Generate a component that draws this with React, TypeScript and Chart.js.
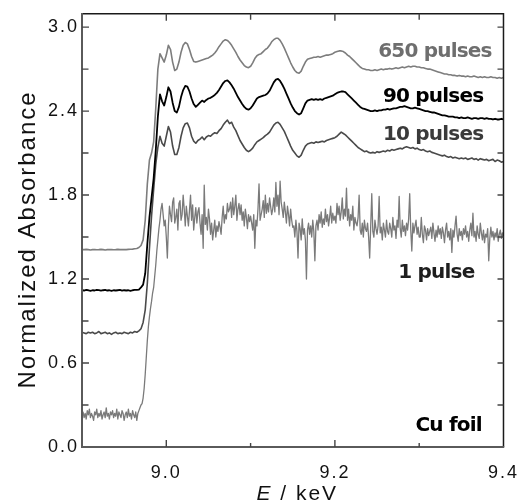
import { useEffect, useRef } from "react";
import { Chart, registerables } from "chart.js";

Chart.register(...registerables);

// Energy grids (keV): first point and spacing of the measured scans
const E_START = 8.9;
const E_STEP = 0.0025;
const E_STEP_1PULSE = 0.00125;

const X_MIN = 8.9;
const X_MAX = 9.4;
const Y_MIN = 0;
const Y_MAX = 3.095;

const X_TICKS_MAJOR = [9.0, 9.2];
const X_TICKS_MINOR = [9.1, 9.3];
const Y_TICKS_MAJOR = [0.6, 1.2, 1.8, 2.4, 3.0];
const Y_TICKS_MINOR = [0.3, 0.9, 1.5, 2.1, 2.7];

const SERIES_NAMES = ["650 pulses", "90 pulses", "10 pulses", "1 pulse"];

const PULSES_650 = [
  1.41, 1.41, 1.412, 1.41, 1.408, 1.41, 1.411, 1.409, 1.41, 1.412,
  1.41, 1.408, 1.41, 1.411, 1.41, 1.409, 1.41, 1.412, 1.41, 1.41,
  1.411, 1.41, 1.412, 1.413, 1.414, 1.416,
  1.418, 1.425, 1.44, 1.48, 1.62, 1.88, 2.05, 2.1, 2.18, 2.42, 2.7, 2.81, 2.78, 2.75,
  2.8, 2.87, 2.84, 2.75, 2.69, 2.7, 2.75, 2.82, 2.87, 2.89,
  2.88, 2.84, 2.79, 2.755, 2.75, 2.755, 2.76, 2.765, 2.77, 2.775,
  2.78, 2.79, 2.8, 2.815, 2.835, 2.86, 2.88, 2.9, 2.91, 2.905,
  2.89, 2.87, 2.845, 2.82, 2.79, 2.765, 2.745, 2.725, 2.715, 2.71,
  2.72, 2.745, 2.775, 2.795, 2.805, 2.81, 2.825, 2.84, 2.85, 2.87,
  2.895, 2.91, 2.92, 2.92, 2.905, 2.88, 2.85, 2.815, 2.78, 2.745,
  2.715, 2.69, 2.675, 2.67, 2.685, 2.72, 2.75, 2.77, 2.775, 2.78,
  2.785, 2.785, 2.79, 2.785, 2.79, 2.795, 2.8, 2.8, 2.805, 2.81,
  2.82, 2.825, 2.83, 2.83, 2.825, 2.815, 2.8, 2.79, 2.775, 2.76,
  2.745, 2.73, 2.715, 2.705, 2.7, 2.695, 2.695, 2.69, 2.69, 2.695,
  2.69, 2.695, 2.7, 2.695, 2.7, 2.7, 2.705, 2.7, 2.705, 2.71,
  2.705, 2.71, 2.715, 2.71, 2.715, 2.72, 2.715, 2.72, 2.72, 2.715,
  2.715, 2.71, 2.71, 2.705, 2.7, 2.7, 2.695, 2.69, 2.685, 2.68,
  2.675, 2.67, 2.665, 2.665, 2.66, 2.66, 2.655, 2.655, 2.65, 2.655,
  2.65, 2.65, 2.645, 2.65, 2.645, 2.645, 2.65, 2.645, 2.64, 2.645,
  2.64, 2.645, 2.64, 2.64, 2.645, 2.64, 2.64, 2.635, 2.64, 2.635,
  2.64,
];

const PULSES_90 = [
  1.12, 1.118, 1.122, 1.12, 1.115, 1.12, 1.118, 1.123, 1.12, 1.117,
  1.12, 1.122, 1.118, 1.12, 1.115, 1.12, 1.118, 1.12, 1.122, 1.117,
  1.12, 1.118, 1.12, 1.115, 1.12, 1.122,
  1.122, 1.125, 1.14, 1.16, 1.24, 1.45, 1.64, 1.78, 1.92, 2.12, 2.36, 2.52, 2.47, 2.44,
  2.5, 2.57, 2.54, 2.46, 2.4, 2.39, 2.43, 2.5, 2.55, 2.58,
  2.575, 2.54, 2.49, 2.45, 2.43, 2.445, 2.46, 2.475, 2.465, 2.48,
  2.49, 2.495, 2.505, 2.515, 2.53, 2.55, 2.575, 2.6, 2.615, 2.62,
  2.605, 2.585, 2.56, 2.53, 2.5, 2.475, 2.45, 2.43, 2.415, 2.41,
  2.42, 2.44, 2.465, 2.49, 2.5, 2.505, 2.51, 2.515, 2.525, 2.545,
  2.575, 2.605, 2.625, 2.63, 2.615, 2.59, 2.56, 2.525, 2.49, 2.455,
  2.425, 2.4, 2.385, 2.375, 2.385, 2.42, 2.455, 2.475, 2.48, 2.485,
  2.48, 2.485, 2.48, 2.485, 2.48, 2.49, 2.495, 2.5, 2.505, 2.51,
  2.52, 2.53, 2.535, 2.54, 2.54, 2.535, 2.52, 2.505, 2.49, 2.475,
  2.46, 2.445, 2.43, 2.42, 2.415, 2.41, 2.405, 2.4, 2.4, 2.405,
  2.4, 2.405, 2.405, 2.41, 2.41, 2.415, 2.41, 2.415, 2.42, 2.42,
  2.425, 2.43, 2.43, 2.435, 2.43, 2.425, 2.42, 2.42, 2.425, 2.42,
  2.415, 2.41, 2.405, 2.4, 2.4, 2.395, 2.39, 2.39, 2.385, 2.38,
  2.375, 2.37, 2.37, 2.365, 2.36, 2.36, 2.36, 2.355, 2.355, 2.35,
  2.355, 2.35, 2.35, 2.355, 2.35, 2.345, 2.35, 2.35, 2.345, 2.35,
  2.35, 2.345, 2.35, 2.345, 2.345, 2.34, 2.345, 2.34, 2.34, 2.345,
  2.34,
];

const PULSES_10 = [
  0.82, 0.815, 0.81, 0.82, 0.815, 0.82, 0.81, 0.815, 0.825, 0.81,
  0.815, 0.82, 0.81, 0.815, 0.805, 0.815, 0.82, 0.81, 0.815, 0.81,
  0.82, 0.815, 0.81, 0.82, 0.815, 0.825,
  0.82, 0.83, 0.845, 0.89, 0.98, 1.17, 1.42, 1.65, 1.84, 2.02, 2.14, 2.22, 2.17, 2.15,
  2.22, 2.29, 2.25, 2.15, 2.09, 2.09, 2.14, 2.22, 2.28, 2.31,
  2.315, 2.28, 2.22, 2.185, 2.17, 2.19, 2.2, 2.215, 2.195, 2.215,
  2.225, 2.22, 2.235, 2.245, 2.24, 2.26, 2.275, 2.3, 2.32, 2.335,
  2.31, 2.32, 2.285, 2.26, 2.225, 2.19, 2.165, 2.14, 2.12, 2.11,
  2.12, 2.135, 2.16, 2.18, 2.19, 2.2, 2.21, 2.225, 2.235, 2.25,
  2.275, 2.3, 2.315, 2.32, 2.305, 2.28, 2.255, 2.22, 2.185, 2.15,
  2.12, 2.1, 2.08, 2.07, 2.085, 2.12, 2.15, 2.165, 2.17, 2.175,
  2.17, 2.18, 2.175, 2.18, 2.185, 2.18, 2.19, 2.195, 2.2, 2.205,
  2.21, 2.22, 2.235, 2.25, 2.24, 2.23, 2.215, 2.2, 2.185, 2.17,
  2.155, 2.14, 2.13, 2.12, 2.11, 2.115, 2.105, 2.1, 2.105, 2.1,
  2.11, 2.105, 2.11, 2.115, 2.11, 2.12, 2.115, 2.125, 2.12, 2.125,
  2.13, 2.135, 2.13, 2.14, 2.145, 2.14, 2.135, 2.14, 2.13, 2.135,
  2.125, 2.12, 2.125, 2.115, 2.11, 2.115, 2.105, 2.1, 2.095, 2.09,
  2.085, 2.08, 2.085, 2.075, 2.07, 2.075, 2.065, 2.07, 2.065, 2.06,
  2.065, 2.06, 2.065, 2.055, 2.06, 2.065, 2.055, 2.06, 2.05, 2.06,
  2.055, 2.05, 2.055, 2.045, 2.05, 2.055, 2.04, 2.05, 2.045, 2.035,
  2.04,
];

// 1 pulse scan (finer grid, E_STEP_1PULSE)
const PULSE_1 = [
  0.22, 0.25, 0.21, 0.24, 0.2, 0.26, 0.23, 0.27, 0.21, 0.24,
  0.22, 0.19, 0.25, 0.23, 0.27, 0.21, 0.24, 0.22, 0.26, 0.2,
  0.23, 0.25, 0.21, 0.28, 0.22, 0.24, 0.2, 0.25, 0.23, 0.26,
  0.21, 0.24, 0.22, 0.27, 0.2, 0.25, 0.23, 0.21, 0.26, 0.24,
  0.19, 0.23, 0.25, 0.21, 0.27, 0.22, 0.24, 0.2, 0.26, 0.23,
  0.21, 0.25, 0.19, 0.24, 0.26, 0.28,
  0.3, 0.31, 0.35, 0.42, 0.52, 0.64, 0.76, 0.86, 0.93, 0.99,
  1.04, 1.1, 1.14, 1.22, 1.3, 1.4, 1.48, 1.56, 1.62, 1.7,
  1.74, 1.66, 1.58, 1.62, 1.5,
  1.35, 1.58, 1.72, 1.66, 1.61, 1.75, 1.78, 1.6, 1.64, 1.7,
  1.55, 1.74, 1.76, 1.62, 1.66, 1.8, 1.7, 1.58, 1.72, 1.65,
  1.58, 1.69, 1.8, 1.62, 1.73, 1.55, 1.64, 1.71, 1.6, 1.68,
  1.71, 1.6, 1.52, 1.66, 1.42, 1.87, 1.59, 1.64, 1.55, 1.7,
  1.63, 1.52, 1.6, 1.48, 1.55, 1.62, 1.5, 1.58, 1.54, 1.61,
  1.57, 1.52, 1.64, 1.72, 1.6, 1.66, 1.63, 1.74, 1.68, 1.7,
  1.75, 1.64, 1.78, 1.66, 1.72, 1.8, 1.62, 1.7, 1.74, 1.66,
  1.73, 1.62, 1.68, 1.58, 1.7, 1.64, 1.56, 1.66, 1.61, 1.65,
  1.6, 1.55, 1.66, 1.42, 1.62, 1.58, 1.7, 1.88, 1.62, 1.66,
  1.7, 1.76, 1.64, 1.8, 1.67, 1.74, 1.68, 1.78, 1.72, 1.66,
  1.7, 1.78, 1.68, 1.89, 1.72, 1.8, 1.66, 1.9, 1.75, 1.7,
  1.64, 1.75, 1.68, 1.6, 1.72, 1.66, 1.58, 1.7, 1.62, 1.57,
  1.58, 1.5, 1.62, 1.54, 1.35, 1.6, 1.56, 1.48, 1.63, 1.52,
  1.56, 1.48, 1.2, 1.55, 1.6, 1.52, 1.58, 1.5, 1.62, 1.54,
  1.33, 1.58, 1.62, 1.55, 1.66, 1.6, 1.68, 1.57, 1.63, 1.59,
  1.7, 1.61, 1.66, 1.58, 1.64, 1.72, 1.6, 1.67, 1.62, 1.65,
  1.6, 1.74, 1.66, 1.72, 1.62, 1.68, 1.78, 1.63, 1.7, 1.65,
  1.85, 1.62, 1.7, 1.58, 1.66, 1.62, 1.72, 1.55, 1.64, 1.6,
  1.58, 1.64, 1.8, 1.55, 1.52, 1.6, 1.5, 1.62, 1.56, 1.54,
  1.6, 1.5, 1.35, 1.58, 1.81, 1.54, 1.5, 1.62, 1.56, 1.52,
  1.58, 1.79, 1.53, 1.57, 1.48, 1.6, 1.55, 1.5, 1.62, 1.54,
  1.52, 1.6, 1.56, 1.5, 1.64, 1.55, 1.58, 1.49, 1.62, 1.57,
  1.79, 1.56, 1.5, 1.62, 1.54, 1.58, 1.51, 1.6, 1.55, 1.63,
  1.81, 1.55, 1.4, 1.6, 1.53, 1.58, 1.62, 1.52, 1.57, 1.5,
  1.5, 1.64, 1.52, 1.46, 1.58, 1.55, 1.48, 1.56, 1.51, 1.54,
  1.57, 1.49, 1.6, 1.53, 1.47, 1.55, 1.5, 1.58, 1.52, 1.56,
  1.49, 1.57, 1.53, 1.46, 1.55, 1.6, 1.5, 1.54, 1.48, 1.56,
  1.39, 1.55, 1.5, 1.58, 1.65, 1.52, 1.47, 1.56, 1.51, 1.54,
  1.48, 1.56, 1.52, 1.58, 1.5, 1.54, 1.47, 1.55, 1.6, 1.51,
  1.67, 1.5, 1.54, 1.47, 1.58, 1.52, 1.49, 1.6, 1.53, 1.48,
  1.55, 1.46, 1.52, 1.5, 1.56, 1.33, 1.49, 1.57, 1.5, 1.54,
  1.48, 1.53, 1.5, 1.56, 1.47, 1.52, 1.55, 1.49, 1.53, 1.5,
];

const SERIES_VALUES = [PULSES_650, PULSES_90, PULSES_10, PULSE_1];
const SERIES_STEPS = [E_STEP, E_STEP, E_STEP, E_STEP_1PULSE];
const SERIES_COLORS = ["#7d7d7d", "#000000", "#4a4a4a", "#7a7a7a"];
const SERIES_WIDTHS = [1.6, 1.8, 1.6, 1.3];

// In-plot annotations: text, anchor (right end, baseline) in data units
const ANNOTATION_TEXT = ["650 pulses", "90 pulses", "10 pulses", "1 pulse", "Cu foil"];
const ANNOTATION_E = [9.386, 9.376, 9.376, 9.3655, 9.3744];
const ANNOTATION_A = [2.786, 2.464, 2.191, 1.207, 0.112];
const ANNOTATION_COLORS = ["#6e6e6e", "#000000", "#3a3a3a", "#1e1e1e", "#000000"];

const TICK_FONT = '"Liberation Sans", Arial, sans-serif';

const decorPlugin = {
  id: "decor",
  beforeDraw(chart: any) {
    chart.ctx.letterSpacing = "2px";
  },
  afterDraw(chart: any) {
    const ctx: CanvasRenderingContext2D = chart.ctx;
    const a = chart.chartArea;
    const xs = chart.scales.x;
    const ys = chart.scales.y;
    ctx.save();

    // frame
    ctx.lineCap = "butt";
    ctx.strokeStyle = "#1a1a1a";
    ctx.lineWidth = 1.5;
    ctx.beginPath();
    ctx.moveTo(a.left, a.top);
    ctx.lineTo(a.right, a.top);
    ctx.lineTo(a.right, a.bottom);
    ctx.stroke();
    ctx.strokeStyle = "#5a5a5a";
    ctx.lineWidth = 2;
    ctx.beginPath();
    ctx.moveTo(a.left, a.top - 0.75);
    ctx.lineTo(a.left, a.bottom);
    ctx.lineTo(a.right + 0.75, a.bottom);
    ctx.stroke();

    // inward ticks
    ctx.strokeStyle = "#444";
    ctx.lineWidth = 1.4;
    ctx.beginPath();
    for (const v of Y_TICKS_MAJOR) {
      const py = ys.getPixelForValue(v);
      ctx.moveTo(a.left, py); ctx.lineTo(a.left + 7, py);
      ctx.moveTo(a.right, py); ctx.lineTo(a.right - 6, py);
    }
    for (const v of Y_TICKS_MINOR) {
      const py = ys.getPixelForValue(v);
      ctx.moveTo(a.left, py); ctx.lineTo(a.left + 6.5, py);
      ctx.moveTo(a.right, py); ctx.lineTo(a.right - 6, py);
    }
    for (const v of X_TICKS_MAJOR) {
      const px = xs.getPixelForValue(v);
      ctx.moveTo(px, a.bottom); ctx.lineTo(px, a.bottom - 7);
      ctx.moveTo(px, a.top); ctx.lineTo(px, a.top + 7);
    }
    for (const v of X_TICKS_MINOR) {
      const px = xs.getPixelForValue(v);
      ctx.moveTo(px, a.bottom); ctx.lineTo(px, a.bottom - 4);
      ctx.moveTo(px, a.top); ctx.lineTo(px, a.top + 6);
    }
    ctx.stroke();

    // annotations
    ctx.font = 'bold 20px "DejaVu Sans", Verdana, sans-serif';
    ctx.letterSpacing = "-0.8px";
    ctx.textAlign = "right";
    ctx.textBaseline = "alphabetic";
    ANNOTATION_TEXT.forEach((t, i) => {
      ctx.fillStyle = ANNOTATION_COLORS[i];
      ctx.fillText(t, xs.getPixelForValue(ANNOTATION_E[i]), ys.getPixelForValue(ANNOTATION_A[i]));
    });

    // axis titles
    ctx.fillStyle = "#111";
    ctx.letterSpacing = "2px";
    ctx.textAlign = "left";
    ctx.font = `italic 21px ${TICK_FONT}`;
    const wE = ctx.measureText("E").width;
    ctx.font = `21px ${TICK_FONT}`;
    const wR = ctx.measureText(" / keV").width;
    const total = wE + wR - 2;
    const cx = (a.left + a.right) / 2 + 3.5;
    const sx = cx - total / 2;
    const by = a.bottom + 53;
    ctx.font = `italic 21px ${TICK_FONT}`;
    ctx.fillText("E", sx, by);
    ctx.font = `21px ${TICK_FONT}`;
    ctx.fillText(" / keV", sx + wE, by);

    ctx.save();
    ctx.translate(35, (a.top + a.bottom) / 2 + 10);
    ctx.rotate(-Math.PI / 2);
    ctx.textAlign = "center";
    ctx.font = `24px ${TICK_FONT}`;
    ctx.letterSpacing = "2px";
    ctx.fillText("Normalized Absorbance", 1, 0);
    ctx.restore();

    ctx.restore();
    ctx.letterSpacing = "0px";
  },
};

export default function App() {
  const canvasRef = useRef<HTMLCanvasElement | null>(null);

  useEffect(() => {
    if (!canvasRef.current) return;
    const datasets = SERIES_VALUES.map((vals, s) => ({
      label: SERIES_NAMES[s],
      data: vals.map((v, i) => ({ x: +(E_START + i * SERIES_STEPS[s]).toFixed(5), y: v })),
      borderColor: SERIES_COLORS[s],
      borderWidth: SERIES_WIDTHS[s],
      pointRadius: 0,
      fill: false,
      tension: 0,
    }));
    const tickFont = { family: TICK_FONT, size: 18 };
    const chart = new Chart(canvasRef.current, {
      type: "line",
      data: { datasets },
      options: {
        animation: false,
        responsive: false,
        maintainAspectRatio: false,
        layout: { padding: { top: 13, right: 18, left: 0, bottom: 0 } },
        plugins: { legend: { display: false }, tooltip: { enabled: false } },
        elements: { line: { borderJoinStyle: "round" } },
        scales: {
          x: {
            type: "linear",
            min: X_MIN,
            max: X_MAX,
            grid: { display: false, drawTicks: false },
            border: { display: false },
            ticks: {
              stepSize: 0.2,
              includeBounds: false,
              autoSkip: false,
              maxRotation: 0,
              padding: 15,
              font: tickFont,
              color: "#111",
              callback: (v: any) => Number(v).toFixed(1),
            },
            afterFit: (s: any) => { s.height = 55; },
          },
          y: {
            type: "linear",
            min: Y_MIN,
            max: Y_MAX,
            grid: { display: false, drawTicks: false },
            border: { display: false },
            ticks: {
              stepSize: 0.6,
              includeBounds: false,
              autoSkip: false,
              padding: 3,
              font: tickFont,
              color: "#111",
              callback: (v: any) => Number(v).toFixed(1),
            },
            afterFit: (s: any) => { s.width = 82; },
          },
        },
      } as any,
      plugins: [decorPlugin],
    });
    return () => chart.destroy();
  }, []);

  return (
    <div style={{ position: "fixed", left: 0, top: 0, width: 531, height: 502, background: "#fff" }}>
      <canvas ref={canvasRef} width={531} height={502} style={{ display: "block", width: 531, height: 502 }} />
    </div>
  );
}
